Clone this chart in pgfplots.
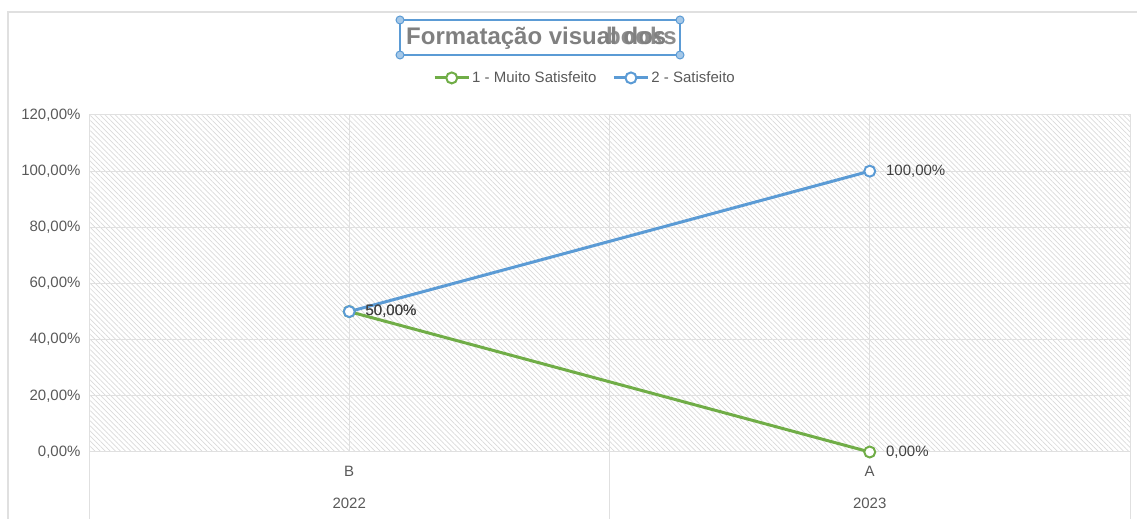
\documentclass[border=0pt]{standalone}
\usepackage{pgfplots}
\pgfplotsset{compat=1.18}
\usepackage{fontspec}
\setmainfont{Liberation Sans}
\usetikzlibrary{patterns.meta}
\definecolor{mgreen}{HTML}{70AD47}
\definecolor{mblue}{HTML}{5B9BD5}
\definecolor{txt}{HTML}{595959}
\definecolor{lab}{HTML}{404040}
\definecolor{gridc}{HTML}{E0E0E0}
\definecolor{hatch}{HTML}{DADADA}
\definecolor{ttl}{HTML}{808080}
\begin{document}
\begin{tikzpicture}[x=1pt,y=1pt]
\path[use as bounding box] (0,0) rectangle (1137,519);
\draw[gridc, line width=1.5pt] (8,0) -- (8,507) -- (1137,507);
\begin{axis}[
  at={(89pt,67pt)}, anchor=south west, scale only axis,
  width=1041pt, height=337pt,
  xmin=-0.5, xmax=1.5, ymin=0, ymax=120,
  clip=false,
  xtick={0,1}, minor xtick={0.5},
  ytick={0,20,40,60,80,100,120},
  xticklabels={{B\\[15pt]2022},{A\\[15pt]2023}},
  xticklabel style={align=center, font=\fontsize{15}{17}\selectfont, text=txt, yshift=-11pt},
  yticklabel={\pgfmathprintnumber[fixed,zerofill,precision=2,use comma,assume math mode=true]{\tick}\%},
  yticklabel style={font=\fontsize{15}{17}\selectfont, text=txt, xshift=-5pt},
  grid=both,
  major grid style={gridc, line width=1pt},
  minor grid style={gridc, line width=1pt},
  axis line style={gridc, line width=1pt},
  major tick length=0pt, minor tick length=0pt,
  tick style={draw=none},
  axis background/.style={pattern={Lines[angle=-45,distance=3.6pt,line width=0.7pt]}, pattern color=hatch},
  legend columns=2,
  legend cell align=left,
  legend style={at={(0.4765,1.11)}, anchor=center, draw=none, fill=none,
    font=\fontsize{15}{18}\selectfont, text=txt,
    /tikz/every even column/.append style={column sep=14pt}},
  legend image code/.code={\draw[mark repeat=2,mark phase=2,#1] plot coordinates {(0pt,0pt) (17pt,0pt) (34pt,0pt)};},
  point meta=y,
  nodes near coords={\pgfmathprintnumber[fixed,zerofill,precision=2,use comma,assume math mode=true]{\pgfplotspointmeta}\%},
  every node near coord/.append style={anchor=west, xshift=12pt, yshift=0pt, font=\fontsize{15}{17}\selectfont, text=lab},
]
\addplot[mgreen, line width=3pt, mark=*, mark size=5.5pt, mark options={fill=white, draw=mgreen, line width=2pt}]
  coordinates {(0,50) (1,0)};
\addlegendentry{1 - Muito Satisfeito}
\addplot[mblue, line width=3pt, mark=*, mark size=5.5pt, mark options={fill=white, draw=mblue, line width=2pt}]
  coordinates {(0,50) (1,100)};
\addlegendentry{2 - Satisfeito}
\draw[gridc, line width=1pt] (rel axis cs:0,0) -- ++(0pt,-67pt);
\draw[gridc, line width=1pt] (rel axis cs:0.5,0) -- ++(0pt,-67pt);
\draw[gridc, line width=1pt] (rel axis cs:1,0) -- ++(0pt,-67pt);
\end{axis}
\node[anchor=base west, inner sep=0pt, font=\fontsize{24}{28}\selectfont\bfseries, text=ttl] at (406,474) {Formatação visual dos};
\node[anchor=base east, inner sep=0pt, font=\fontsize{24}{28}\selectfont\bfseries, text=ttl, opacity=0.9] at (677,474) {books};
\draw[mblue, line width=1.5pt] (400,464) rectangle (680,499);
\foreach \p in {(400,464),(680,464),(400,499),(680,499)}
  \filldraw[fill=mblue!55, draw=mblue, line width=1pt] \p circle (4);
\end{tikzpicture}
\end{document}
